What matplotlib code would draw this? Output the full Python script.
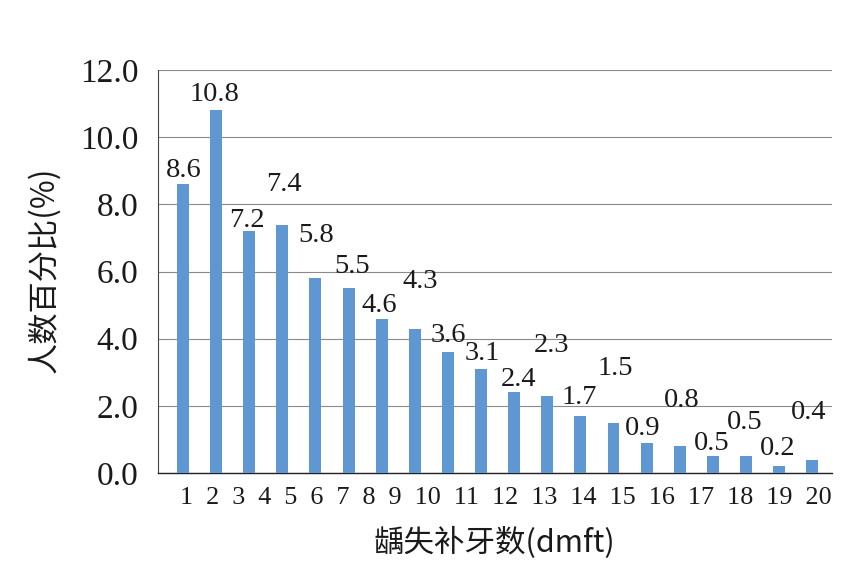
import matplotlib
matplotlib.use("Agg")
import matplotlib.pyplot as plt
import matplotlib.transforms as mtransforms

# dmft categories and share of people (%)
dmft = list(range(1, 21))
percent = [8.6, 10.8, 7.2, 7.4, 5.8, 5.5, 4.6, 4.3, 3.6, 3.1,
           2.4, 2.3, 1.7, 1.5, 0.9, 0.8, 0.5, 0.5, 0.2, 0.4]
y_ticks = [0, 2, 4, 6, 8, 10, 12]

# where each value label sits relative to its bar top (pixels)
label_dx = [1, -2, -2, 2, 1, 4, -2, 5, 0, 1, 4, 4, -1, 2, -4, 2, -1, -1, -1, -3]
label_dy = [7, 9, 4, 34, 36, 15, 7, 41, 10, 9, 6, 44, 12, 48, 8, 39, 6, 27, 11, 41]

serif = "Liberation Serif"
cjk = ["Noto Sans CJK SC", "DejaVu Sans"]
ink = "#1a1a1a"

fig = plt.figure(figsize=(8.62, 5.86), dpi=100)
ax = fig.add_axes([0.1833, 0.1928, 0.9652 - 0.1833, 0.8805 - 0.1928])

ax.bar(dmft, percent, width=0.36, color="#5f97d2", zorder=3)

ax.set_xlim(0.245, 20.6)
ax.set_ylim(0, 12)
ax.set_yticks(y_ticks)
ax.set_yticklabels(["%.1f" % t for t in y_ticks], fontfamily=serif,
                   fontsize=24, color=ink)
ax.tick_params(axis="y", length=0, pad=14)
ax.set_xticks([])

ax.grid(axis="y", color="#8a8a8a", linewidth=0.8, zorder=0)
for s in ["top", "right"]:
    ax.spines[s].set_visible(False)
ax.spines["left"].set_color("#444444")
ax.spines["bottom"].set_color("#222222")
ax.spines["left"].set_linewidth(0.8)
ax.spines["bottom"].set_linewidth(1.0)

# value labels
for x, v, dx, dy in zip(dmft, percent, label_dx, label_dy):
    ax.annotate("%.1f" % v, (x, v), xytext=(dx, dy), textcoords="offset pixels",
                ha="center", va="baseline", fontfamily=serif, fontsize=20.5,
                color=ink, zorder=4)

# category numbers set as one line of text under the axis
trans = mtransforms.blended_transform_factory(ax.transAxes, ax.transAxes)
ax.text(1.0, -0.062, "  ".join(str(d) for d in dmft), transform=trans,
        ha="right", va="center", fontfamily=serif, fontsize=18.8, color=ink)

fig.text(0.5731, 1 - 543 / 586, "龋失补牙数(dmft)", ha="center", va="center",
         family=cjk, fontsize=22, color=ink)
fig.text(44 / 862, 1 - 270 / 586, "人数百分比(%)", ha="center", va="center",
         rotation=90, family=cjk, fontsize=22.5, color=ink)

fig.savefig("out.png", dpi=100)
